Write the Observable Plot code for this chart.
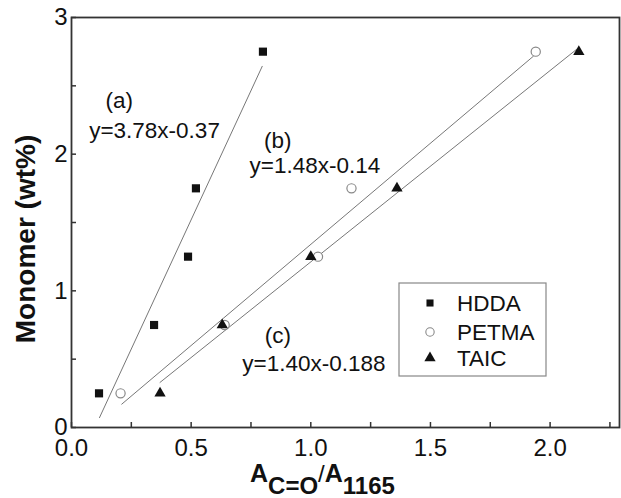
<!DOCTYPE html>
<html>
<head>
<meta charset="utf-8">
<script src="https://cdn.jsdelivr.net/npm/d3@7"></script>
<script src="https://cdn.jsdelivr.net/npm/@observablehq/plot@0.6"></script>
<style>
  html, body { margin: 0; padding: 0; background: #fff; }
  #chart { position: relative; width: 621px; height: 498px; }
  svg { font-family: "Liberation Sans", Arial, sans-serif; }
</style>
</head>
<body>
<div id="chart"></div>
<script>
// ---- data ----
const monomerWt = [0.25, 0.75, 1.25, 1.75, 2.75];
const hddaRatio = [0.115, 0.345, 0.487, 0.52, 0.80];
const petmaRatio = [0.205, 0.64, 1.03, 1.17, 1.94];
const taicRatio = [0.37, 0.63, 1.0, 1.36, 2.12];

const seriesNames = ["HDDA", "PETMA", "TAIC"];
const fitLabels = ["(a)", "(b)", "(c)"];
const fitEquations = ["y=3.78x-0.37", "y=1.48x-0.14", "y=1.40x-0.188"];
const fitSlopes = [3.78, 1.48, 1.40];
const fitIntercepts = [-0.37, -0.14, -0.188];
const fitXStart = [0.117, 0.21, 0.37];
const fitXEnd = [0.797, 1.93, 2.11];
// annotation anchor points (data units)
const labelX = [0.20, 0.862, 0.862];
const labelY = [2.39, 2.10, 0.673];
const eqX = [0.347, 1.017, 1.013];
const eqY = [2.17, 1.917, 0.468];

const xTickValues = [0, 0.25, 0.5, 0.75, 1, 1.25, 1.5, 1.75, 2, 2.25];
const xLabelValues = [0, 0.5, 1, 1.5, 2];
const yTickValues = [0, 0.5, 1, 1.5, 2, 2.5, 3];
const yLabelValues = [0, 1, 2, 3];

// ---- build tables ----
const pts = (xs, name) => xs.map((x, i) => ({x, y: monomerWt[i], s: name}));
const hdda = pts(hddaRatio, "HDDA");
const petma = pts(petmaRatio, "PETMA");
const taic = pts(taicRatio, "TAIC");

const fitLines = fitSlopes.flatMap((m, i) => [
  {x: fitXStart[i], y: m * fitXStart[i] + fitIntercepts[i], k: i},
  {x: fitXEnd[i], y: m * fitXEnd[i] + fitIntercepts[i], k: i}
]);
const labels = fitLabels.map((t, i) => ({x: labelX[i], y: labelY[i], t}));
const eqs = fitEquations.map((t, i) => ({x: eqX[i], y: eqY[i], t}));

const W = 621, H = 498, mL = 71, mR = 2, mT = 17, mB = 71;
const innerW = W - mL - mR, innerH = H - mT - mB;

const plot = Plot.plot({
  width: W, height: H,
  marginLeft: mL, marginRight: mR, marginTop: mT, marginBottom: mB,
  style: {fontFamily: "'Liberation Sans', Arial, sans-serif", fontSize: "24px", color: "#111", background: "#fff"},
  x: {domain: [0, 2.29]},
  y: {domain: [0, 3]},
  marks: [
    Plot.line(fitLines, {x: "x", y: "y", z: "k", stroke: "#777", strokeWidth: 1}),
    Plot.dot(hdda, {x: "x", y: "y", symbol: "square", r: 4.6, fill: "#111", stroke: "none"}),
    Plot.dot(petma, {x: "x", y: "y", symbol: "circle", r: 4.6, fill: "white", stroke: "#888", strokeWidth: 1.2}),
    Plot.dot(taic, {x: "x", y: "y", symbol: "triangle", r: 4.2, fill: "#111", stroke: "none"}),
    Plot.text(labels, {x: "x", y: "y", text: "t", fontSize: 22.5, fill: "#111"}),
    Plot.text(eqs, {x: "x", y: "y", text: "t", fontSize: 22.5, fill: "#111"}),
    Plot.tickX(xTickValues, {x: d => d, insetTop: innerH - 5, stroke: "#333", strokeWidth: 1.5}),
    Plot.tickY(yTickValues, {y: d => d, insetRight: innerW - 5, stroke: "#333", strokeWidth: 1.5}),
    Plot.axisX(xLabelValues, {tickSize: 0, tickPadding: 11, tickFormat: d3.format(".1f"), label: null, fontSize: 24, fill: "#111"}),
    Plot.axisY(yLabelValues, {tickSize: 0, tickPadding: 4, tickFormat: d3.format("d"), label: null, fontSize: 24, fill: "#111"}),
    Plot.frame({stroke: "#333", strokeWidth: 1.8})
  ]
});

document.getElementById("chart").appendChild(plot);

// ---- axis titles & legend (layout, added to the same SVG) ----
const svg = d3.select(plot);
const font = "'Liberation Sans', Arial, sans-serif";

svg.append("text")
  .attr("transform", "translate(35,239) rotate(-90)")
  .attr("text-anchor", "middle")
  .attr("font-family", font).attr("font-weight", "bold").attr("font-size", 28)
  .attr("fill", "#111")
  .text("Monomer (wt%)");

const xl = svg.append("text")
  .attr("x", 250).attr("y", 482)
  .attr("text-anchor", "start")
  .attr("font-family", font).attr("font-weight", "bold").attr("font-size", 24)
  .attr("fill", "#111");
xl.append("tspan").attr("font-size", 25).text("A");
xl.append("tspan").attr("dy", 12).text("C=O");
xl.append("tspan").attr("dy", -12).attr("font-weight", "normal").text("/");
xl.append("tspan").attr("font-size", 25).text("A");
xl.append("tspan").attr("dy", 12).text("1165");

const lg = svg.append("g").attr("transform", "translate(399,283)");
lg.append("rect").attr("width", 147).attr("height", 93)
  .attr("fill", "white").attr("stroke", "#888").attr("stroke-width", 1.2);
const rowsY = [20, 49, 75];
const symType = [d3.symbolSquare, d3.symbolCircle, d3.symbolTriangle];
const symFill = ["#111", "white", "#111"];
const symStroke = ["none", "#888", "none"];
const symSize = [50, 55, 55];
seriesNames.forEach((name, i) => {
  lg.append("path")
    .attr("transform", `translate(31,${rowsY[i]})`)
    .attr("d", d3.symbol(symType[i], symSize[i])())
    .attr("fill", symFill[i]).attr("stroke", symStroke[i]).attr("stroke-width", 1.1);
  lg.append("text")
    .attr("x", 58).attr("y", rowsY[i]).attr("dy", "0.36em")
    .attr("text-anchor", "start")
    .attr("font-family", font).attr("font-size", 22.5).attr("fill", "#111")
    .text(name);
});
</script>
</body>
</html>
